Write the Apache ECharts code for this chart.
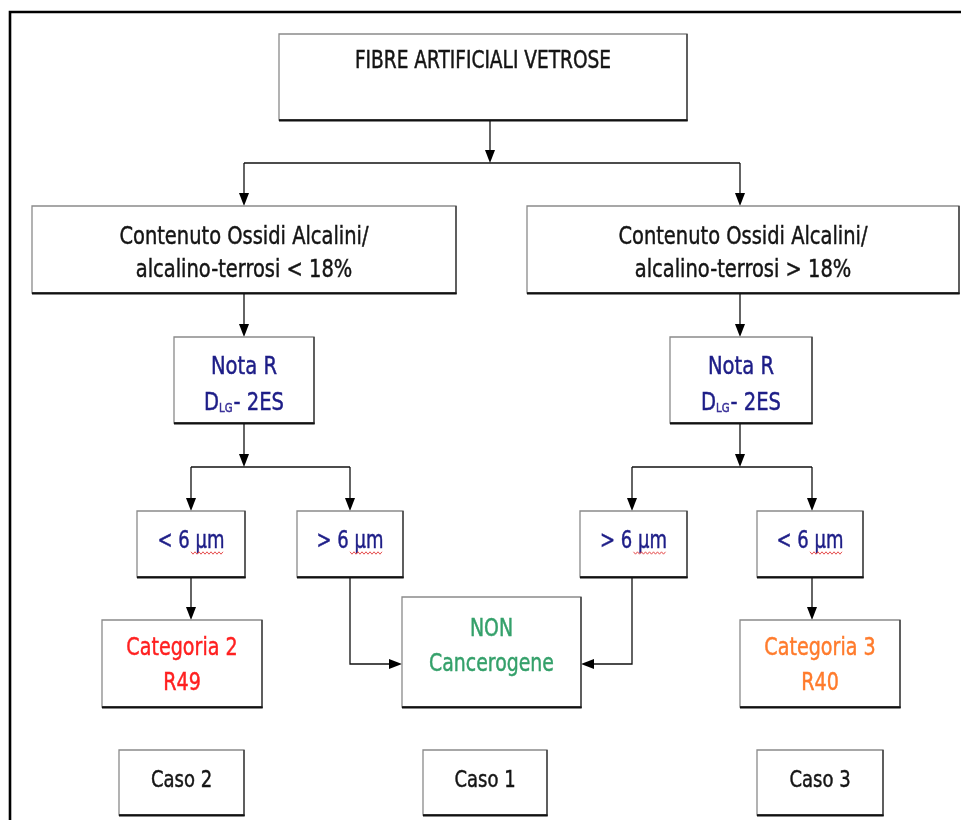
<!DOCTYPE html>
<html>
<head>
<meta charset="utf-8">
<script src="https://cdn.jsdelivr.net/npm/echarts@6/dist/echarts.min.js"></script>
<style>
html,body{margin:0;padding:0;background:#fff;}
#chart{width:961px;height:820px;}
</style>
</head>
<body>
<div id="chart"></div>
<script>
// ---- content ----
const nodeLines = [
  ['FIBRE ARTIFICIALI VETROSE'],
  ['Contenuto Ossidi Alcalini/', 'alcalino-terrosi < 18%'],
  ['Contenuto Ossidi Alcalini/', 'alcalino-terrosi > 18%'],
  ['Nota R', '{d|D}{s|LG}{d|- 2ES}'],
  ['Nota R', '{d|D}{s|LG}{d|- 2ES}'],
  ['< 6 µm'],
  ['> 6 µm'],
  ['> 6 µm'],
  ['< 6 µm'],
  ['Categoria 2', 'R49'],
  ['NON', 'Cancerogene'],
  ['Categoria 3', 'R40'],
  ['Caso 2'],
  ['Caso 1'],
  ['Caso 3']
];
const nodeKind = ['top','plain','plain','nota','nota','size','size','size','size','cat2','non','cat3','caso','caso','caso'];

// ---- layout (diagram units = pixels of the reference) ----
const nodeBoxes = [
  [279, 34, 687, 120],
  [32, 206, 456, 293],
  [527, 206, 959, 293],
  [174, 337, 314, 423],
  [670, 337, 812, 423],
  [137, 511, 245, 577],
  [297, 511, 403, 577],
  [580, 511, 687, 577],
  [757, 511, 863, 577],
  [102, 620, 262, 707],
  [402, 597, 581, 707],
  [740, 620, 900, 707],
  [119, 750, 244, 815],
  [423, 750, 547, 815],
  [757, 750, 883, 815]
];
const nodeLineY = [
  [62], [237, 270], [237, 270], [367, 401], [367, 401],
  [541], [541], [541], [541], [648, 683], [629, 664], [648, 683],
  [781], [781], [781]
];
const edgePaths = [
  [[490,120],[490,163]],
  [[244,163],[740,163]],
  [[244,163],[244,206]],
  [[740,163],[740,206]],
  [[244,293],[244,337]],
  [[740,293],[740,337]],
  [[244,423],[244,467]],
  [[740,423],[740,467]],
  [[191,467],[350,467]],
  [[632,467],[812,467]],
  [[191,467],[191,511]],
  [[350,467],[350,511]],
  [[632,467],[632,511]],
  [[812,467],[812,511]],
  [[191,577],[191,620]],
  [[812,577],[812,620]],
  [[350,577],[350,664],[402,664]],
  [[632,577],[632,664],[581,664]]
];
const edgeArrow = [1,0,1,1,1,1,1,1,0,0,1,1,1,1,1,1,1,1];
const framePath = [[10,830],[10,12],[975,12]];

// ---- styles ----
const FONT = "'DejaVu Sans Condensed','DejaVu Sans','Noto Sans',sans-serif";
const kindStyle = {
  top:   {color:'#141414', size:24, sx:0.86},
  plain: {color:'#141414', size:25, sx:0.865},
  nota:  {color:'#1d1d87', size:25, sx:0.87},
  size:  {color:'#1d1d87', size:25, sx:0.8},
  cat2:  {color:'#ff2020', size:25, sx:0.85},
  non:   {color:'#34a06a', size:25, sx:0.84},
  cat3:  {color:'#ff7b2c', size:25, sx:0.85},
  caso:  {color:'#141414', size:23, sx:0.87}
};

const chart = echarts.init(document.getElementById('chart'), null, {renderer:'canvas'});

function renderNode(params, api) {
  const i = params.dataIndex;
  const p0 = api.coord([api.value(0), api.value(1)]);
  const p1 = api.coord([api.value(2), api.value(3)]);
  const k = nodeKind[i];
  const st = kindStyle[k];
  const fs = st.size;
  const cx = (p0[0] + p1[0]) / 2;
  const children = [
    {type:'rect', shape:{x:p0[0], y:p0[1], width:p1[0]-p0[0], height:p1[1]-p0[1]},
     style:{fill:'#fff', stroke:'#8a8a8a', lineWidth:1.3}},
    {type:'polyline', shape:{points:[[p0[0], p1[1]], [p1[0], p1[1]], [p1[0], p0[1]]]},
     style:{stroke:'#333', lineWidth:1.3, fill:null}},
    {type:'line', shape:{x1:p0[0], y1:p1[1]+0.5, x2:p1[0]+0.7, y2:p1[1]+0.5},
     style:{stroke:'#111', lineWidth:2}}
  ];
  nodeLines[i].forEach(function(txt, j){
    const y = api.coord([0, nodeLineY[i][j]])[1];
    children.push({type:'text', x:cx, y:y, scaleX:st.sx, style:{
      text:txt, fill:st.color, font: fs + 'px ' + FONT,
      stroke:st.color, lineWidth:0.45,
      align:'center', verticalAlign:'middle',
      rich:{
        d:{fontSize:fs, fontFamily:FONT, fill:st.color, stroke:st.color, lineWidth:0.45, lineHeight:fs+4, verticalAlign:'bottom'},
        s:{fontSize:Math.round(fs*0.52), fontFamily:FONT, fill:'#3b2f9a', lineHeight:fs+4, verticalAlign:'bottom', padding:[0,1,0,0]}
      }
    }});
  });
  if (k === 'size') {
    // red spell-check squiggle under "µm"
    const y = api.coord([0, nodeLineY[i][0] + 12])[1];
    const pts = [];
    for (let t = 0; t <= 32; t += 2) pts.push([cx + t, y + ((t/2) % 2 ? 1.2 : -1.2)]);
    children.push({type:'polyline', shape:{points:pts}, style:{stroke:'#e23b3b', lineWidth:0.9, fill:null}});
  }
  return {type:'group', children:children};
}

function renderEdge(params, api) {
  const i = params.dataIndex;
  const pts = edgePaths[i].map(function(p){ return api.coord(p); });
  const children = [];
  const last = pts[pts.length-1], prev = pts[pts.length-2];
  let linePts = pts.slice();
  if (edgeArrow[i]) {
    const dx = last[0]-prev[0], dy = last[1]-prev[1];
    const len = Math.sqrt(dx*dx+dy*dy);
    const ux = dx/len, uy = dy/len;
    const L = 13, W = 5;
    const bx = last[0]-ux*L, by = last[1]-uy*L;
    children.push({type:'polygon', shape:{points:[[last[0],last[1]],[bx-uy*W, by+ux*W],[bx+uy*W, by-ux*W]]},
      style:{fill:'#000'}});
    linePts[linePts.length-1] = [bx+ux*2, by+uy*2];
  }
  children.unshift({type:'polyline', shape:{points:linePts}, style:{stroke:'#111', lineWidth:1.3, fill:null}});
  return {type:'group', children:children};
}

function renderFrame(params, api) {
  const pts = framePath.map(function(p){ return api.coord(p); });
  return {type:'polyline', shape:{points:pts}, style:{stroke:'#000', lineWidth:2.6, fill:null}};
}

chart.setOption({
  backgroundColor:'#fff',
  animation:false,
  grid:{left:0, right:0, top:0, bottom:0},
  xAxis:{type:'value', min:0, max:961, show:false},
  yAxis:{type:'value', min:0, max:820, inverse:true, show:false},
  series:[
    {type:'custom', name:'frame', renderItem:renderFrame, clip:false,
     data:[[framePath[1][0], framePath[1][1]]], encode:{x:0, y:1}, silent:true},
    {type:'custom', name:'edges', renderItem:renderEdge, clip:false,
     data:edgePaths.map(function(p){ return [p[0][0], p[0][1]]; }), encode:{x:0, y:1}, silent:true},
    {type:'custom', name:'nodes', renderItem:renderNode, clip:false,
     data:nodeBoxes, encode:{x:[0,2], y:[1,3]}, silent:true}
  ]
});
</script>
</body>
</html>
